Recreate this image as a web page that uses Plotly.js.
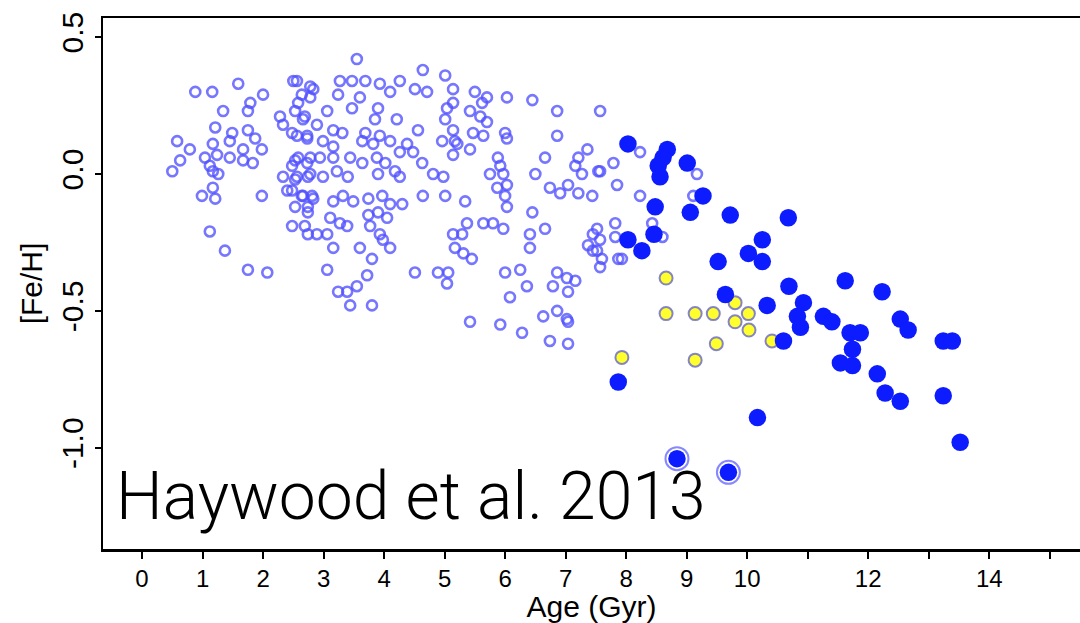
<!DOCTYPE html>
<html>
<head>
<meta charset="utf-8">
<script src="https://cdn.plot.ly/plotly-3.0.1.min.js"></script>
<style>html,body{margin:0;padding:0;background:#fff;}#chart{width:1080px;height:623px;}</style>
</head>
<body>
<div id="chart"></div>
<script>
// Open circles (thin disc sample)
const openAge = [
 0.88,1.16,1.59,1.34,1.75,1.79,2.00,1.21,1.49,1.75,
 1.87,0.58,0.79,1.17,1.45,1.67,1.98,0.63,1.04,1.24,
 1.45,1.67,1.83,0.50,1.12,1.26,1.17,0.99,1.17,1.21,
 1.98,1.12,1.37,1.75,2.07,2.50,2.78,2.64,2.28,2.53,
 2.69,2.33,2.48,2.73,2.58,2.78,2.48,2.33,2.53,2.74,
 2.40,2.64,2.81,2.53,2.74,2.48,2.69,2.74,3.55,4.64,
 5.01,3.27,3.47,3.69,3.93,4.26,2.56,2.83,4.10,4.51,
 4.71,5.14,3.24,3.60,5.04,2.58,2.78,3.06,3.47,3.90,
 3.85,4.21,5.01,2.66,2.89,3.16,3.31,3.69,3.93,4.10,
 4.56,4.38,4.96,5.17,5.14,2.56,2.73,2.99,3.16,3.64,
 3.82,4.26,4.48,4.63,2.53,2.73,2.94,3.16,3.44,3.64,
 3.88,4.02,3.90,4.18,4.26,4.81,4.98,5.01,2.56,2.78,
 2.99,3.22,3.40,4.64,2.48,2.66,2.83,3.16,3.32,3.49,
 3.74,3.97,4.10,4.30,2.74,3.11,3.27,3.39,3.74,3.90,
 4.05,2.89,3.06,3.77,3.93,3.98,3.16,3.60,3.80,4.10,
 3.06,3.72,3.55,3.39,3.24,3.44,3.80,4.51,4.89,5.04,
 5.06,5.14,5.17,5.14,5.50,5.70,5.62,6.03,6.45,5.42,
 5.59,5.70,6.86,7.57,6.00,6.03,6.86,5.14,5.47,5.64,
 5.21,5.42,5.88,5.92,5.75,5.97,6.66,7.36,7.21,7.16,
 7.27,7.54,7.79,6.50,6.74,6.91,7.04,7.21,7.44,7.85,
 5.87,6.03,6.00,6.03,5.34,6.45,5.37,5.64,5.80,5.97,
 5.29,6.41,6.66,6.41,5.31,5.45,7.45,7.37,7.57,7.45,
 7.60,7.82,7.87,6.00,6.25,6.36,6.08,6.86,7.02,7.16,
 6.79,7.04,5.42,5.92,6.28,6.63,6.86,7.02,7.04,6.74,
 7.04,8.23,7.57,8.23,9.17,9.11,7.52,7.82,8.60,8.43,
 7.52,7.57,7.93
];
const openFeh = [
 0.30,0.30,0.33,0.23,0.23,0.26,0.29,0.17,0.15,0.16,
 0.13,0.12,0.09,0.11,0.12,0.09,0.09,0.05,0.06,0.07,
 0.06,0.05,0.04,0.01,0.03,0.00,0.01,-0.08,-0.05,-0.09,
 -0.08,-0.21,-0.28,-0.35,-0.36,0.34,0.32,0.29,0.21,0.23,
 0.21,0.18,0.15,0.14,0.06,0.06,0.03,-0.01,-0.02,-0.01,
 -0.06,-0.08,-0.08,-0.12,-0.12,-0.19,-0.19,-0.22,0.42,0.38,
 0.36,0.34,0.34,0.34,0.33,0.34,0.34,0.31,0.30,0.31,
 0.30,0.31,0.29,0.28,0.24,0.26,0.28,0.23,0.24,0.24,
 0.20,0.20,0.20,0.20,0.18,0.16,0.15,0.15,0.14,0.12,
 0.16,0.11,0.12,0.12,0.07,0.14,0.13,0.12,0.10,0.12,
 0.11,0.08,0.08,0.04,0.05,0.04,0.06,0.06,0.06,0.04,
 0.06,0.04,0.00,0.01,-0.01,0.00,-0.01,-0.08,-0.01,0.00,
 -0.01,0.01,-0.01,-0.08,-0.06,-0.08,-0.09,-0.10,-0.08,-0.10,
 -0.09,-0.08,-0.11,-0.11,-0.14,-0.16,-0.18,-0.19,-0.15,-0.14,
 -0.16,-0.22,-0.22,-0.19,-0.22,-0.24,-0.27,-0.27,-0.31,-0.27,
 -0.35,-0.37,-0.41,-0.43,-0.43,-0.48,-0.48,-0.36,-0.36,-0.40,
 -0.36,-0.22,-0.27,0.26,0.30,0.28,0.26,0.28,0.27,0.23,
 0.21,0.19,0.23,0.23,0.15,0.13,0.14,0.16,0.15,0.14,
 0.11,0.09,0.06,0.03,0.00,0.00,0.06,0.09,0.06,0.03,
 0.00,0.01,0.04,0.00,-0.05,-0.07,-0.04,-0.07,-0.08,-0.04,
 -0.05,-0.04,-0.08,-0.12,-0.10,-0.14,-0.18,-0.18,-0.18,-0.20,
 -0.22,-0.22,-0.20,-0.27,-0.29,-0.31,-0.22,-0.26,-0.24,-0.28,
 -0.31,-0.18,-0.31,-0.36,-0.35,-0.41,-0.45,-0.36,-0.38,-0.39,
 -0.41,-0.43,-0.54,-0.55,-0.58,-0.52,-0.50,-0.53,-0.54,-0.61,
 -0.62,0.08,0.01,-0.08,0.00,-0.08,-0.20,-0.23,-0.23,-0.18,
 -0.28,-0.34,-0.31
];

// Filled blue (thick disc sample)
const blueAge = [8.03,8.68,8.53,8.56,8.61,9.01,9.27,9.06,9.72,10.68,
 8.48,8.46,8.03,8.26,10.25,10.02,10.25,9.52,10.69,9.64,
 10.33,10.93,10.83,10.88,10.60,7.87,11.62,12.23,11.26,11.40,
 11.70,11.87,11.74,11.54,11.74,12.53,12.66,13.24,13.39,12.15,
 12.28,12.53,13.24,13.52,10.17,8.84,9.69];
const blueFeh = [0.11,0.09,0.03,-0.01,0.06,0.04,-0.08,-0.14,-0.15,-0.16,
 -0.12,-0.22,-0.24,-0.28,-0.24,-0.29,-0.32,-0.32,-0.41,-0.44,
 -0.48,-0.47,-0.52,-0.56,-0.61,-0.76,-0.39,-0.43,-0.52,-0.54,
 -0.58,-0.58,-0.64,-0.69,-0.70,-0.53,-0.57,-0.61,-0.61,-0.73,
 -0.80,-0.83,-0.81,-0.98,-0.89,-1.04,-1.09];

// Ringed stars
const ringAge = [8.84, 9.69];
const ringFeh = [-1.04, -1.09];

// Yellow points
const yellowAge = [8.66,8.66,9.14,9.44,9.80,10.02,9.80,10.03,9.49,10.41,7.93,9.14];
const yellowFeh = [-0.38,-0.51,-0.51,-0.51,-0.47,-0.51,-0.54,-0.57,-0.62,-0.61,-0.67,-0.68];

// Axis ticks
const xTickVals = [0,1,2,3,4,5,6,7,8,9,10,11,12,13,14,15];
const xTickText = ['0','1','2','3','4','5','6','7','8','9','10','','12','','14',''];
const yTickVals = [-1.0,-0.5,0.0,0.5];
const yTickText = ['-1.0','-0.5','0.0','0.5'];

const FONT = 'Liberation Sans, Arial, Helvetica, sans-serif';

const traces = [
  {x: openAge, y: openFeh, type: 'scatter', mode: 'markers',
   marker: {symbol: 'circle-open', size: 10, color: 'rgba(80,80,255,0.78)', line: {width: 2.6}}},
  {x: ringAge, y: ringFeh, type: 'scatter', mode: 'markers',
   marker: {symbol: 'circle-open', size: 23, color: 'rgba(95,95,255,0.75)', line: {width: 2}}},
  {x: yellowAge, y: yellowFeh, type: 'scatter', mode: 'markers',
   marker: {symbol: 'circle', size: 13, color: '#ffff2e', line: {width: 2, color: 'rgba(110,110,200,0.85)'}}},
  {x: blueAge, y: blueFeh, type: 'scatter', mode: 'markers',
   marker: {symbol: 'circle', size: 17.5, color: '#0c1cff', line: {width: 0}}}
];

const layout = {
  width: 1080, height: 623,
  margin: {l: 103, r: 0, t: 18, b: 74, pad: 0},
  paper_bgcolor: '#ffffff', plot_bgcolor: '#ffffff',
  showlegend: false,
  font: {family: FONT, color: '#000'},
  xaxis: {
    range: [-0.645, 15.5], tickmode: 'array', tickvals: xTickVals, ticktext: xTickText,
    ticks: 'outside', ticklen: 7, tickwidth: 2, tickcolor: '#000',
    showline: true, linewidth: 2.5, linecolor: '#000', mirror: true,
    showgrid: false, zeroline: false,
    tickfont: {family: FONT, size: 24, color: '#000'},
    title: {text: 'Age (Gyr)', font: {family: FONT, size: 30, color: '#000'}, standoff: 2}
  },
  yaxis: {
    range: [-1.37, 0.57], tickmode: 'array', tickvals: yTickVals, ticktext: yTickText,
    tickangle: -90,
    ticks: 'outside', ticklen: 6, tickwidth: 2, tickcolor: '#000',
    showline: true, linewidth: 2.5, linecolor: '#000', mirror: false,
    showgrid: false, zeroline: false,
    tickfont: {family: FONT, size: 30, color: '#000'},
    title: {text: '[Fe/H]', font: {family: FONT, size: 30, color: '#000'}, standoff: 4}
  },
  annotations: [{
    text: 'Haywood et al. 2013', xref: 'paper', yref: 'paper',
    x: 0.0115, y: 0.098, xanchor: 'left', yanchor: 'middle', showarrow: false,
    font: {family: 'Roboto, Liberation Sans, sans-serif', size: 66, color: '#000', weight: 300}
  }]
};

Plotly.newPlot('chart', traces, layout, {staticPlot: true, displayModeBar: false});
</script>
</body>
</html>
